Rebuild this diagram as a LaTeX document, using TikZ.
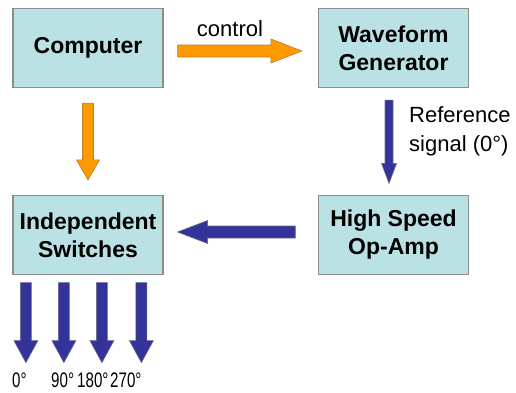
\documentclass[tikz,border=0pt]{standalone}
\usepackage{fontspec}
\setmainfont{Liberation Sans}
\usetikzlibrary{calc}

\definecolor{boxfill}{RGB}{186,226,229}
\definecolor{boxline}{RGB}{140,140,140}
\definecolor{ctrlorange}{RGB}{255,153,0}
\definecolor{ctrledge}{RGB}{185,125,45}
\definecolor{sigblue}{RGB}{51,51,153}
\definecolor{sigedge}{RGB}{105,105,140}

% block arrow: #1 style, #2 tail, #3 tip, #4 shaft half-width,
% #5 head half-width, #6 head length
\newcommand\fatarrow[6]{%
  \coordinate (fa-base) at ($(#3)!#6!(#2)$);
  \filldraw[#1] ($(#2)!#4!90:(#3)$) -- ($(fa-base)!#4!-90:(#2)$)
    -- ($(fa-base)!#5!-90:(#2)$) -- (#3) -- ($(fa-base)!#5!90:(#2)$)
    -- ($(fa-base)!#4!90:(#2)$) -- ($(#2)!#4!-90:(#3)$) -- cycle;
}

\begin{document}
\begin{tikzpicture}[x=1pt,y=-1pt,
  block/.style={draw=boxline, line width=1.2pt, fill=boxfill,
    minimum width=150pt, minimum height=79pt, inner sep=0pt,
    align=center, font=\bfseries\fontsize{23}{28}\selectfont},
  plaintext/.style={inner sep=0pt, font=\fontsize{22}{28.5}\selectfont},
  degtext/.style={inner sep=0pt, anchor=base west, font=\fontsize{21}{25}\selectfont},
  orangearrow/.style={fill=ctrlorange, draw=ctrledge, line width=0.6pt, line join=miter},
  bluearrow/.style={fill=sigblue, draw=sigedge, line width=0.6pt, line join=miter}]
\useasboundingbox (0,0) rectangle (516,392);

% blocks
\node[block] (comp) at (88,48) {Computer};
\node[block] (wave) at (393.5,48) {Waveform\\Generator};
\node[block] (sw)   at (88,235) {Independent\\Switches};
\node[block] (amp)  at (393.5,235) {High Speed\\Op-Amp};

% connector end points
\coordinate (ctrl-from) at ($(comp.east)+(14,3)$);
\coordinate (ctrl-to)   at ($(wave.west)+(-16,3)$);
\coordinate (down-from) at ($(comp.south)+(0,15)$);
\coordinate (down-to)   at ($(sw.north)+(0,-15)$);
\coordinate (ref-from)  at ($(wave.south)+(-4.5,12)$);
\coordinate (ref-to)    at ($(amp.north)+(-4.5,-11.5)$);
\coordinate (amp-from)  at ($(amp.west)+(-22.5,-3)$);
\coordinate (amp-to)    at ($(sw.east)+(14,-3)$);

% control paths
\fatarrow{orangearrow}{ctrl-from}{ctrl-to}{6pt}{12pt}{31pt}
\fatarrow{orangearrow}{down-from}{down-to}{5.5pt}{11.5pt}{20pt}

% signal paths
\fatarrow{bluearrow}{ref-from}{ref-to}{4pt}{7.5pt}{20pt}
\fatarrow{bluearrow}{amp-from}{amp-to}{6pt}{11.5pt}{30pt}

% four phase outputs
\foreach \dx [count=\i] in {13.5,51.5,89.5,129} {
  \coordinate (out\i-from) at ($(sw.south west)+(\dx,7.5)$);
  \coordinate (out\i-to)   at ($(sw.south west)+(\dx,87.5)$);
  \fatarrow{bluearrow}{out\i-from}{out\i-to}{5.5pt}{12pt}{22pt}
}

% labels (a multi-line node sits on the baseline of its last line)
\node[plaintext, anchor=base] (ctrl-lab) at (230,36) {control};
\node[plaintext, anchor=base west, align=left] (ref-lab) at (409,151) {Reference\\signal (0°)};
\node[degtext] (deg0)   at (12,387)  {\scalebox{0.72}[1]{0°}};
\node[degtext] (deg90)  at (51,387)  {\scalebox{0.72}[1]{90°}};
\node[degtext] (deg180) at (77,387)  {\scalebox{0.72}[1]{180°}};
\node[degtext] (deg270) at (110,387) {\scalebox{0.72}[1]{270°}};
\end{tikzpicture}
\end{document}
